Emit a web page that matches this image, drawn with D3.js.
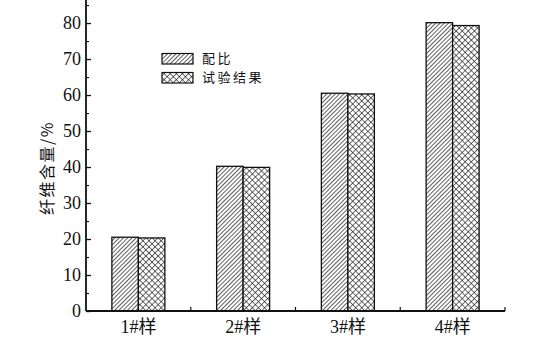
<!DOCTYPE html>
<html><head><meta charset="utf-8">
<script src="https://cdn.jsdelivr.net/npm/d3@7/dist/d3.min.js"></script>
<style>body{margin:0;background:#fff}svg{display:block}</style>
</head><body>
<script>
const categories = ["1#样", "2#样", "3#样", "4#样"];
const seriesNames = ["配比", "试验结果"];
const ratio = [20.5, 40.2, 60.5, 80.1];
const result = [20.3, 39.9, 60.3, 79.3];
const yTicks = [0, 10, 20, 30, 40, 50, 60, 70, 80];
const yLabel = "纤维含量/%";

const W = 537, H = 339;
const svg = d3.select("body").append("svg").attr("width", W).attr("height", H);
const defs = svg.append("defs");
const hs = 3.0, cs = 4.3;
const p1 = defs.append("pattern").attr("id", "hatch").attr("patternUnits", "userSpaceOnUse")
  .attr("width", hs).attr("height", hs).attr("patternTransform", "rotate(45)");
p1.append("rect").attr("width", hs).attr("height", hs).attr("fill", "#fff");
p1.append("line").attr("x1", 0).attr("y1", 0).attr("x2", 0).attr("y2", hs).attr("stroke", "#111").attr("stroke-width", 1.35);
const p2 = defs.append("pattern").attr("id", "cross").attr("patternUnits", "userSpaceOnUse")
  .attr("width", cs).attr("height", cs).attr("patternTransform", "rotate(45)");
p2.append("rect").attr("width", cs).attr("height", cs).attr("fill", "#fff");
p2.append("line").attr("x1", 0).attr("y1", 0).attr("x2", 0).attr("y2", cs).attr("stroke", "#111").attr("stroke-width", 1.2);
p2.append("line").attr("x1", 0).attr("y1", 0).attr("x2", cs).attr("y2", 0).attr("stroke", "#111").attr("stroke-width", 1.2);

const x0 = 86, x1 = 505, yBase = 311;
const y = d3.scaleLinear().domain([0, 86.4]).range([yBase, 0]);
const x = d3.scaleBand().domain(categories).range([x0, x1]).paddingInner(0).paddingOuter(0);
const xs = d3.scaleBand().domain(seriesNames).range([0, 53]);

const fills = ["url(#hatch)", "url(#cross)"];
const data = [ratio, result];

const g = svg.append("g");
categories.forEach((c, i) => {
  const cx = x(c) + x.bandwidth() / 2 - 26.5;
  seriesNames.forEach((s, j) => {
    g.append("rect")
      .attr("x", cx + xs(s)).attr("y", y(data[j][i]))
      .attr("width", xs.bandwidth()).attr("height", yBase - y(data[j][i]))
      .attr("fill", fills[j]).attr("stroke", "#111").attr("stroke-width", 1.3);
  });
});

// y axis
const yAxis = d3.axisRight(y).tickValues(yTicks).tickSize(5).tickFormat("");
const ya = svg.append("g").attr("transform", `translate(${x0},0)`).call(yAxis);
ya.select(".domain").remove();
ya.selectAll("line").attr("stroke", "#111").attr("stroke-width", 1.3);
const yMinor = d3.axisRight(y).tickValues(d3.range(5, 86, 10)).tickSize(3).tickFormat("");
const ym = svg.append("g").attr("transform", `translate(${x0},0)`).call(yMinor);
ym.select(".domain").remove();
ym.selectAll("line").attr("stroke", "#111").attr("stroke-width", 1.1);
svg.append("line").attr("x1", x0).attr("x2", x0).attr("y1", 0).attr("y2", yBase).attr("stroke", "#111").attr("stroke-width", 1.8);
svg.selectAll(".ylab").data(yTicks).enter().append("text")
  .attr("x", 81).attr("y", d => y(d)).attr("dy", "0.35em").attr("text-anchor", "end")
  .attr("font-family", "Liberation Serif, serif").attr("font-size", 18).attr("fill", "#111")
  .text(d => d);

// x axis
svg.append("line").attr("x1", x0).attr("x2", x1).attr("y1", yBase).attr("y2", yBase).attr("stroke", "#111").attr("stroke-width", 1.8);
const xb = categories.map(c => x(c)).slice(1).concat([x1]);
svg.selectAll(".xt").data(xb).enter().append("line")
  .attr("x1", d => d).attr("x2", d => d).attr("y1", yBase).attr("y2", yBase - 4)
  .attr("stroke", "#111").attr("stroke-width", 1.2);
svg.selectAll(".xlab").data(categories).enter().append("text")
  .attr("x", d => x(d) + x.bandwidth() / 2).attr("y", 333).attr("text-anchor", "middle")
  .attr("font-family", "Liberation Serif, 'Noto Sans CJK SC', serif").attr("font-size", 18).attr("fill", "#111")
  .text(d => d);

// y label
svg.append("text").attr("transform", "translate(53,168) rotate(-90)").attr("text-anchor", "middle")
  .attr("font-family", "'Noto Sans CJK SC', serif").attr("font-size", 16).attr("letter-spacing", 1.5).attr("fill", "#111")
  .text(yLabel);

// legend
const leg = svg.append("g");
seriesNames.forEach((s, j) => {
  const ly = 53.5 + j * 19;
  leg.append("rect").attr("x", 162).attr("y", ly).attr("width", 31).attr("height", 10.5)
    .attr("fill", fills[j]).attr("stroke", "#111").attr("stroke-width", 1.2);
  leg.append("text").attr("x", 202).attr("y", ly + 5).attr("dy", "0.36em")
    .attr("font-family", "'Noto Sans CJK SC', sans-serif").attr("font-size", 13).attr("letter-spacing", 2.5).attr("fill", "#111")
    .text(s);
});
</script>
</body></html>
